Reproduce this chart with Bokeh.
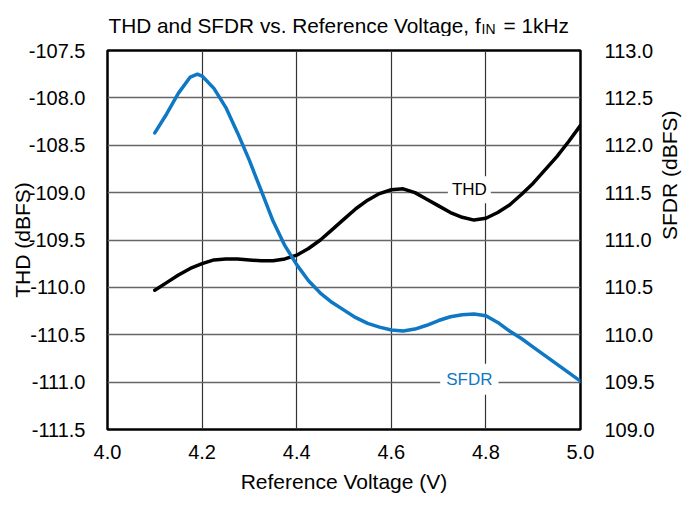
import math
from bokeh.plotting import figure
from bokeh.layouts import column
from bokeh.models import Range1d, LinearAxis, FixedTicker, NumeralTickFormatter, Label
from bokeh.core.properties import value
from bokeh.embed import file_html
from bokeh.resources import INLINE

voltage_thd = [4.100, 4.125, 4.150, 4.175, 4.200, 4.225, 4.250, 4.275, 4.300, 4.325, 4.350,
               4.375, 4.400, 4.425, 4.450, 4.475, 4.500, 4.525, 4.550, 4.575, 4.600, 4.625,
               4.650, 4.675, 4.700, 4.725, 4.750, 4.775, 4.800, 4.825, 4.850, 4.875, 4.900,
               4.925, 4.950, 4.975, 5.000]
thd = [-110.03, -109.95, -109.87, -109.80, -109.75, -109.71, -109.70, -109.70, -109.71,
       -109.72, -109.72, -109.70, -109.66, -109.59, -109.50, -109.39, -109.28, -109.17,
       -109.08, -109.01, -108.97, -108.96, -109.00, -109.07, -109.14, -109.21, -109.26,
       -109.29, -109.27, -109.21, -109.13, -109.02, -108.90, -108.76, -108.62, -108.46, -108.29]

voltage_sfdr = [4.100, 4.125, 4.150, 4.175, 4.190, 4.200, 4.225, 4.250, 4.275, 4.300, 4.325,
                4.350, 4.375, 4.400, 4.425, 4.450, 4.475, 4.500, 4.525, 4.550, 4.575, 4.600,
                4.625, 4.650, 4.675, 4.700, 4.725, 4.750, 4.775, 4.800, 4.825, 4.850, 4.875,
                4.900, 4.925, 4.950, 4.975, 5.000]
sfdr = [112.13, 112.33, 112.55, 112.72, 112.75, 112.73, 112.60, 112.40, 112.13, 111.84, 111.52,
        111.20, 110.94, 110.74, 110.57, 110.44, 110.34, 110.26, 110.18, 110.12, 110.08, 110.05,
        110.04, 110.06, 110.10, 110.15, 110.19, 110.21, 110.22, 110.20, 110.13, 110.04, 109.96,
        109.87, 109.78, 109.69, 109.60, 109.51]

x_ticks = [4.0, 4.2, 4.4, 4.6, 4.8, 5.0]
thd_ticks = [-111.5, -111.0, -110.5, -110.0, -109.5, -109.0, -108.5, -108.0, -107.5]
sfdr_ticks = [109.0, 109.5, 110.0, 110.5, 111.0, 111.5, 112.0, 112.5, 113.0]

title_main = "THD and SFDR vs. Reference Voltage, f"
title_sub = "IN"
title_tail = "= 1kHz"

FONT = "Liberation Sans"
BLUE = "#0f78c4"

FRAME_L, FRAME_R = 107, 580   # frame edges in page pixels (shared by both figures)
TH = 36                       # height of the title strip

# ---------- title strip (its frame is aligned with the chart frame by the column) ----------
t = figure(width=697, height=TH, output_backend="svg", toolbar_location=None, title=None,
           x_range=Range1d(FRAME_L, FRAME_R), y_range=Range1d(0, TH),
           min_border_left=0, min_border_right=0, min_border_top=0, min_border_bottom=0)
t.axis.visible = False
t.grid.visible = False
t.outline_line_color = None
t.background_fill_color = "white"
t.border_fill_color = "white"
t.text(x=[108], y=[TH - 25], text=[title_main], text_font=value(FONT), text_font_size="20.8px",
       text_align="left", text_baseline="alphabetic", text_color="black")
t.text(x=[481], y=[TH - 28], text=[title_sub], text_font=value(FONT), text_font_size="14px",
       text_align="left", text_baseline="alphabetic", text_color="black")
t.text(x=[503], y=[TH - 25], text=[title_tail], text_font=value(FONT), text_font_size="20.8px",
       text_align="left", text_baseline="alphabetic", text_color="black")

# ---------- main chart ----------
p = figure(width=697, height=516 - TH, output_backend="svg", toolbar_location=None,
           x_range=Range1d(4.0, 5.0), y_range=Range1d(-111.5, -107.5),
           min_border_left=FRAME_L, min_border_right=697 - FRAME_R,
           min_border_top=50 - TH, min_border_bottom=87)
p.extra_y_ranges = {"sfdr": Range1d(109.0, 113.0)}

p.outline_line_color = "black"
p.outline_line_width = 2.5
p.background_fill_color = "white"
p.border_fill_color = "white"

p.xaxis.ticker = FixedTicker(ticks=x_ticks)
p.xaxis.formatter = NumeralTickFormatter(format="0.0")
p.yaxis.ticker = FixedTicker(ticks=thd_ticks)
p.yaxis.formatter = NumeralTickFormatter(format="0.0")
p.xaxis.axis_label = "Reference Voltage (V)"
p.yaxis.axis_label = "THD (dBFS)"

right = LinearAxis(y_range_name="sfdr", ticker=FixedTicker(ticks=sfdr_ticks),
                   formatter=NumeralTickFormatter(format="0.0"), axis_label="SFDR (dBFS)")
p.add_layout(right, "right")

for ax in [p.xaxis[0], p.yaxis[0], right]:
    ax.axis_line_color = None
    ax.major_tick_line_color = None
    ax.minor_tick_line_color = None
    ax.major_label_text_font = FONT
    ax.major_label_text_font_size = "20px"
    ax.major_label_text_color = "black"
    ax.axis_label_text_font = FONT
    ax.axis_label_text_font_size = "21px"
    ax.axis_label_text_font_style = "normal"
    ax.axis_label_text_color = "black"

if hasattr(right, "axis_label_orientation"):
    right.axis_label_orientation = math.pi / 2

p.xaxis.major_label_standoff = 9
p.xaxis.axis_label_standoff = 8
p.yaxis.major_label_standoff = 16
p.yaxis.axis_label_standoff = -8
right.major_label_standoff = 18
right.axis_label_standoff = 12

p.xgrid.ticker = FixedTicker(ticks=[4.2, 4.4, 4.6, 4.8])
p.ygrid.ticker = FixedTicker(ticks=thd_ticks[1:-1])
p.xgrid.grid_line_color = "#333333"
p.xgrid.grid_line_width = 1.2
p.ygrid.grid_line_color = "#666666"
p.ygrid.grid_line_width = 1.4

p.line(voltage_thd, thd, line_color="black", line_width=3.5, line_join="round", line_cap="round")
p.line(voltage_sfdr, sfdr, line_color=BLUE, line_width=3.5, line_join="round", line_cap="round",
       y_range_name="sfdr")

p.add_layout(Label(x=4.765, y=-108.97, text="THD", text_font=FONT, text_font_size="17px",
                   text_align="center", text_baseline="middle", text_color="black",
                   background_fill_color="white", padding=4))
p.add_layout(Label(x=4.765, y=109.53, y_range_name="sfdr", text="SFDR", text_font=FONT,
                   text_font_size="17px", text_align="center", text_baseline="middle",
                   text_color=BLUE, background_fill_color="white", padding=6))

layout = column(t, p, spacing=0)
open("out.html", "w").write(file_html(layout, INLINE))
